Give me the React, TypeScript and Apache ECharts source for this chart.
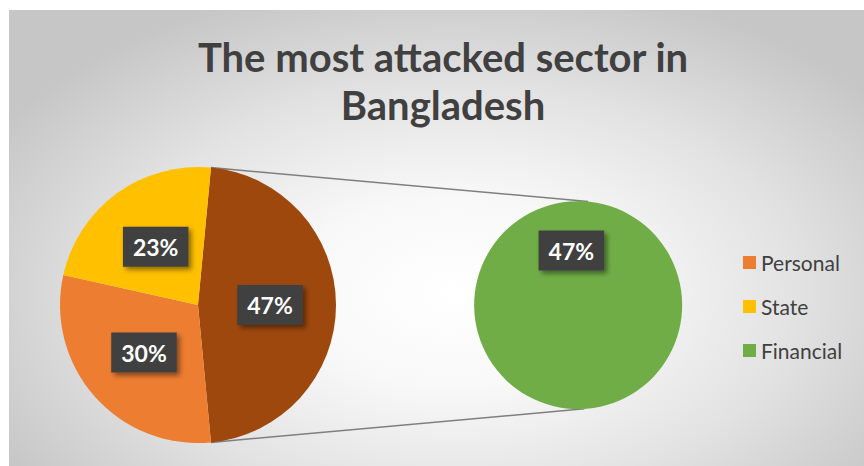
import React, { useEffect, useRef } from "react";
import * as echarts from "echarts";

const titleText = "The most attacked sector in\nBangladesh";
const legendNames = ["Personal", "State", "Financial"];
const mainNames = ["Personal", "State"];
const mainValues = [30, 23];
const otherName = "Other";
const otherValue = 47;
const secondNames = ["Financial"];
const secondValues = [47];

const colors: Record<string, string> = {
  Other: "#9E480E",
  Personal: "#ED7D31",
  State: "#FFC000",
  Financial: "#70AD47",
};

export default function App() {
  const ref = useRef<HTMLDivElement>(null);
  useEffect(() => {
    if (!ref.current) return;
    const chart = echarts.init(ref.current, null, { renderer: "svg" });
    const c1 = [189, 295];
    const r1 = 138;
    const c2 = [570, 295];
    const r2 = 104;
    const total = otherValue + mainValues.reduce((a, b) => a + b, 0);
    const half = (otherValue / total) * 180;
    const rad = (d: number) => (d * Math.PI) / 180;
    const p1 = [c1[0] + r1 * Math.cos(rad(half)), c1[1] - r1 * Math.sin(rad(half))];
    const p2 = [c1[0] + r1 * Math.cos(rad(-half)), c1[1] - r1 * Math.sin(rad(-half))];
    const q1 = [c2[0] + r2 * Math.cos(rad(85)), c2[1] - r2 * Math.sin(rad(85))];
    const q2 = [c2[0] + r2 * Math.cos(rad(-87)), c2[1] - r2 * Math.sin(rad(-87))];

    const labelStyle = {
      show: true,
      position: "inside",
      formatter: (p: any) => `${p.value}%`,
      color: "#ffffff",
      fontFamily: "Lato",
      fontWeight: "bold",
      fontSize: 23,
      backgroundColor: "#404040",
      padding: [9, 10, 8, 10],
      shadowBlur: 5,
      shadowColor: "rgba(0,0,0,0.45)",
      shadowOffsetX: 3,
      shadowOffsetY: 3,
    };

    chart.setOption({
      animation: false,
      backgroundColor: "transparent",
      title: {
        text: titleText,
        left: 429,
        top: 18,
        textAlign: "center",
        textStyle: {
          fontFamily: "Lato",
          fontWeight: "bold",
          fontSize: 40,
          lineHeight: 48,
          color: "#404040",
        },
      },
      legend: {
        data: legendNames,
        orient: "vertical",
        left: 729,
        top: 237,
        itemWidth: 13,
        itemHeight: 13,
        itemGap: 23,
        icon: "rect",
        textStyle: { fontFamily: "Lato", fontSize: 21, color: "#404040" },
      },
      graphic: [
        {
          type: "line",
          z: 0,
          shape: { x1: p1[0], y1: p1[1], x2: q1[0], y2: q1[1] },
          style: { stroke: "#7f7f7f", lineWidth: 1.5 },
        },
        {
          type: "line",
          z: 0,
          shape: { x1: p2[0], y1: p2[1], x2: q2[0], y2: q2[1] },
          style: { stroke: "#7f7f7f", lineWidth: 1.5 },
        },
      ],
      series: [
        {
          type: "pie",
          center: c1,
          radius: [0, r1],
          startAngle: half,
          clockwise: true,
          silent: true,
          label: labelStyle,
          labelLine: { show: false },
          itemStyle: { borderWidth: 0 },
          data: [
            { name: otherName, value: otherValue, itemStyle: { color: colors[otherName] } },
            ...mainNames.map((n, i) => ({ name: n, value: mainValues[i], itemStyle: { color: colors[n] } })),
          ],
        },
        {
          type: "pie",
          center: c2,
          radius: [0, r2],
          startAngle: 278,
          clockwise: true,
          silent: true,
          label: labelStyle,
          labelLine: { show: false },
          itemStyle: { borderWidth: 0 },
          data: secondNames.map((n, i) => ({ name: n, value: secondValues[i], itemStyle: { color: colors[n] } })),
        },
      ],
    });
    return () => chart.dispose();
  }, []);

  return (
    <div style={{ position: "fixed", left: 0, top: 0, width: 864, height: 466, background: "#ffffff" }}>
      <div
        style={{
          position: "absolute",
          left: 9,
          top: 10,
          width: 855,
          height: 456,
          background: "radial-gradient(ellipse 62% 70% at 52% 62%, #ffffff 0%, #f8f8f8 30%, #e2e2e2 65%, #c6c6c6 100%)",
        }}
      >
        <div ref={ref} style={{ width: 855, height: 456 }} />
      </div>
    </div>
  );
}
